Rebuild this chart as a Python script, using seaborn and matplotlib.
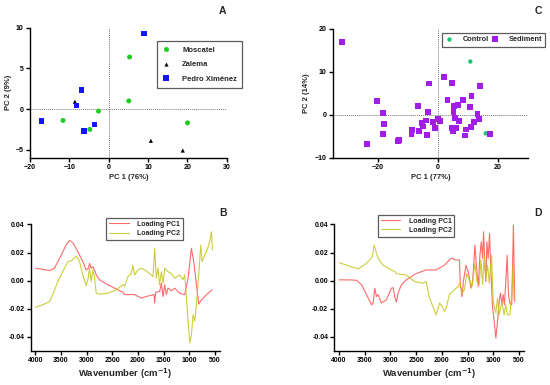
import numpy as np
import pandas as pd
import matplotlib
matplotlib.use("Agg")
import matplotlib.pyplot as plt
import seaborn as sns

# -- Panel A: PCA scores by grape variety --
a_variety = ["Moscatel"] * 6 + ["Zalema"] * 3 + ["Pedro Ximénez"] * 6
a_pc1 = [5.3, 5.1, -2.6, -11.6, -4.8, 20.0,
         -8.6, 10.7, 18.8,
         9.0, -6.9, -8.2, -17.1, -3.6, -6.2]
a_pc2 = [6.4, 1.0, -0.25, -1.4, -2.5, -1.7,
         0.9, -3.9, -5.1,
         9.3, 2.3, 0.45, -1.5, -1.9, -2.7]

# -- Panel C: PCA scores control vs sediment --
c_group = ["Control"] * 2 + ["Sediment"] * 44
c_pc1 = [10.8, 15.9,
         -32.0, -20.4, -18.4, -17.8, -18.2, -23.7, -13.0, -13.3, -8.6, -8.8,
         -6.6, -6.2, -5.3, -5.1, -3.9, -3.6, -3.2, -2.9, -1.7, -0.9,
         -0.1, 0.7, 2.1, 3.2, 4.7, 4.6, 5.0, 5.2, 5.4, 5.8,
         6.1, 6.8, 6.9, 8.3, 8.9, 9.4, 10.6, 10.9, 11.2, 12.0,
         13.2, 13.7, 14.0, 17.4]
c_pc2 = [12.4, -4.3,
         17.0, 3.3, 0.5, -2.1, -4.5, -6.8, -5.8, -6.1, -3.6, -4.4,
         2.1, -3.8, -1.9, -2.7, -1.3, -4.7, 0.7, 7.3, -1.6, -3.0,
         -0.9, -1.5, 8.9, 3.5, 7.5, -3.0, -3.7, 0.7, 2.0, -0.8,
         -3.1, 2.3, -1.5, 3.4, -4.8, -3.4, 1.9, -2.8, 4.4, -1.6,
         0.3, -0.9, 6.8, -4.4]

# -- Panel B: loadings --
b_wn_pc1 = [4000, 3857, 3726, 3629, 3498, 3400, 3336, 3270, 3173, 3075, 3010,
            2964, 2945, 2912, 2880, 2847, 2814, 2749, 2586, 2391, 2293, 2261,
            2065, 1935, 1805, 1687, 1674, 1655, 1577, 1544, 1511, 1479, 1446,
            1414, 1349, 1283, 1186, 1088, 1023, 958, 912, 860, 814, 762, 697,
            632, 555]
b_pc1 = [0.0088, 0.0080, 0.0071, 0.0088, 0.0180, 0.0255, 0.0286, 0.0270,
         0.0206, 0.0135, 0.0076, 0.0088, 0.0123, 0.0088, 0.0099, 0.0076,
         0.0040, 0.0005, -0.0030, -0.0066, -0.0083, -0.0100, -0.0100,
         -0.0125, -0.0110, -0.0100, -0.0160, -0.0083, -0.0078, -0.0019,
         -0.0114, -0.0030, -0.0100, -0.0054, -0.0073, -0.0054, -0.0090,
         -0.0100, 0.0017, 0.0230, 0.0135, -0.0030, -0.0168, -0.0137,
         -0.0114, -0.0090, -0.0066]
b_wn_pc2 = [4000, 3857, 3726, 3661, 3563, 3466, 3368, 3303, 3205, 3140, 3075,
            3010, 2977, 2945, 2912, 2880, 2847, 2814, 2749, 2586, 2423, 2293,
            2261, 2195, 2130, 2098, 2065, 2000, 1935, 1870, 1772, 1707, 1674,
            1642, 1609, 1577, 1544, 1511, 1479, 1414, 1349, 1283, 1186, 1121,
            1088, 1055, 1023, 990, 958, 925, 893, 860, 814, 775, 749, 697,
            632, 600, 567, 548]
b_pc2 = [-0.0190, -0.0173, -0.0150, -0.0100, -0.0007, 0.0064, 0.0135,
         0.0140, 0.0175, 0.0135, 0.0040, -0.0035, 0.0005, 0.0088, -0.0007,
         0.0076, 0.0017, -0.0090, -0.0097, -0.0090, -0.0066, -0.0030,
         -0.0040, 0.0028, 0.0050, 0.0110, 0.0040, 0.0076, 0.0088, 0.0076,
         0.0050, 0.0028, 0.0230, 0.0017, 0.0088, -0.0030, 0.0064, -0.0020,
         0.0088, 0.0064, 0.0050, 0.0017, 0.0040, 0.0005, 0.0040, -0.0125,
         -0.0290, -0.0445, -0.0386, -0.0244, -0.0290, -0.0173, 0.0050,
         0.0253, 0.0135, 0.0180, 0.0240, 0.0277, 0.0348, 0.0218]

# -- Panel D: loadings --
d_wn_pc1 = [4000, 3787, 3658, 3562, 3465, 3368, 3336, 3304, 3271, 3239, 3175,
            3078, 2981, 2949, 2917, 2885, 2852, 2788, 2691, 2498, 2304, 2111,
            1950, 1821, 1724, 1659, 1640, 1608, 1582, 1531, 1479, 1434, 1402,
            1357, 1324, 1292, 1260, 1234, 1208, 1189, 1163, 1144, 1124, 1099,
            1073, 1047, 1015, 983, 950, 918, 886, 860, 834, 809, 783, 757,
            731, 705, 680, 641, 609, 583]
d_pc1 = [0.0005, 0.0005, 0.0002, -0.0030, -0.0100, -0.0173, -0.0160,
         -0.0054, -0.0114, -0.0100, -0.0160, -0.0137, -0.0054, -0.0050,
         -0.0114, -0.0154, -0.0090, -0.0030, 0.0005, 0.0050, 0.0076, 0.0076,
         0.0110, 0.0159, 0.0147, 0.0147, -0.0030, -0.0114, -0.0007, 0.0110,
         0.0050, -0.0054, -0.0007, 0.0253, 0.0088, -0.0043, 0.0180, 0.0277,
         0.0159, 0.0348, 0.0110, -0.0007, 0.0277, 0.0159, 0.0336, 0.0064,
         -0.0185, -0.0290, -0.0410, -0.0290, -0.0150, -0.0090, -0.0173,
         -0.0100, -0.0173, -0.0007, 0.0180, -0.0100, -0.0160, -0.0173,
         0.0395, -0.0150]
d_wn_pc2 = [4000, 3852, 3626, 3465, 3349, 3317, 3291, 3239, 3143, 2981, 2917,
            2885, 2820, 2691, 2530, 2369, 2304, 2240, 2111, 2046, 1995, 1950,
            1918, 1853, 1756, 1691, 1646, 1608, 1563, 1518, 1466, 1415, 1357,
            1318, 1273, 1240, 1208, 1176, 1144, 1112, 1079, 1034, 1002, 950,
            918, 886, 834, 789, 757, 725, 680, 641, 615, 596]
d_pc2 = [0.0128, 0.0110, 0.0083, 0.0123, 0.0170, 0.0253, 0.0218, 0.0159,
         0.0110, 0.0076, 0.0064, 0.0050, 0.0045, 0.0040, -0.0007, -0.0019,
         -0.0007, -0.0125, -0.0244, -0.0160, -0.0185, -0.0220, -0.0196,
         -0.0100, -0.0066, -0.0043, -0.0019, -0.0090, -0.0066, 0.0050,
         0.0005, -0.0043, 0.0123, -0.0007, -0.0030, 0.0147, -0.0030, 0.0180,
         0.0017, 0.0110, -0.0019, 0.0180, -0.0150, -0.0230, -0.0125,
         -0.0244, -0.0150, -0.0244, -0.0173, -0.0244, -0.0244, -0.0100,
         0.0110, -0.0137]

sns.set_style("ticks")
plt.rcParams["font.family"] = ["Liberation Sans", "DejaVu Sans"]
plt.rcParams["font.weight"] = "bold"
plt.rcParams["axes.labelweight"] = "bold"
plt.rcParams["axes.linewidth"] = 1.0
plt.rcParams["axes.edgecolor"] = "black"

fig = plt.figure(figsize=(5.5, 3.85), dpi=100)
ax_a = fig.add_axes([0.0545, 0.590, 0.358, 0.338])
ax_c = fig.add_axes([0.605, 0.590, 0.355, 0.335])
ax_b = fig.add_axes([0.056, 0.089, 0.344, 0.328])
ax_d = fig.add_axes([0.608, 0.089, 0.345, 0.328])


def style_axes(ax):
    sns.despine(ax=ax)
    ax.tick_params(direction="out", length=3, width=1, labelsize=5,
                   colors="black", pad=1.5)
    for lab in ax.get_xticklabels() + ax.get_yticklabels():
        lab.set_fontweight("bold")


def frame_legend(ax, loc, anchor, borderpad=0.8, size=5, **kw):
    sns.move_legend(ax, loc, bbox_to_anchor=anchor, title=None, frameon=True,
                    fancybox=False, prop={"size": size, "weight": "bold"},
                    borderpad=borderpad, **kw)
    fr = ax.get_legend().get_frame()
    fr.set_edgecolor("#333333")
    fr.set_linewidth(0.9)


# ---- A ----
df_a = pd.DataFrame({"pc1": a_pc1, "pc2": a_pc2, "variety": a_variety})
ax_a.axhline(0, color="#777777", ls=(0, (1, 1)), lw=0.7, zorder=0)
ax_a.axvline(0, color="#777777", ls=(0, (1, 1)), lw=0.7, zorder=0)
sns.scatterplot(data=df_a, x="pc1", y="pc2", hue="variety", style="variety",
                palette={"Moscatel": "#22cc22", "Zalema": "black",
                         "Pedro Ximénez": "#1414ff"},
                markers={"Moscatel": "o", "Zalema": "^", "Pedro Ximénez": "s"},
                size="variety", sizes={"Moscatel": 13, "Zalema": 9,
                                       "Pedro Ximénez": 17},
                linewidth=0, ax=ax_a)
ax_a.set_xlim(-20, 30)
ax_a.set_ylim(-6, 10)
ax_a.set_xticks([-20, -10, 0, 10, 20, 30])
ax_a.set_yticks([-5, 0, 5, 10])
ax_a.set_xlabel("PC 1 (76%)", fontsize=5.5, labelpad=2)
ax_a.set_ylabel("PC 2 (9%)", fontsize=5.5, labelpad=3)
style_axes(ax_a)
frame_legend(ax_a, "upper left", (0.645, 0.895), borderpad=0.7, size=5.5,
             labelspacing=0.9, handlelength=1.0, handletextpad=1.6,
             borderaxespad=0)

# ---- C ----
df_c = pd.DataFrame({"pc1": c_pc1, "pc2": c_pc2, "group": c_group})
ax_c.axhline(0, color="#777777", ls=(0, (1, 1)), lw=0.7, zorder=0)
ax_c.axvline(0, color="#777777", ls=(0, (1, 1)), lw=0.7, zorder=0)
sns.scatterplot(data=df_c, x="pc1", y="pc2", hue="group", style="group",
                palette={"Control": "#1fc472", "Sediment": "#a21ee6"},
                markers={"Control": "o", "Sediment": "s"},
                size="group", sizes={"Control": 10, "Sediment": 18},
                linewidth=0, ax=ax_c)
ax_c.set_xlim(-35, 30)
ax_c.set_ylim(-10, 20)
ax_c.set_xticks([-20, 0, 20])
ax_c.set_yticks([-10, 0, 10, 20])
ax_c.set_xlabel("PC 1 (77%)", fontsize=5.5, labelpad=2)
ax_c.set_ylabel("PC 2 (14%)", fontsize=5.5, labelpad=3)
style_axes(ax_c)
frame_legend(ax_c, "upper left", (0.56, 0.97), borderpad=0.45, size=5.3,
             ncol=2, handlelength=1.0, columnspacing=0.4, handletextpad=1.3,
             borderaxespad=0)

# ---- B and D ----
pal = {"Loading PC1": "#ff5050", "Loading PC2": "#c4c41c"}


def loading_panel(ax, wn1, v1, wn2, v2, anchor):
    df = pd.concat([
        pd.DataFrame({"wn": wn1, "loading": v1, "series": "Loading PC1"}),
        pd.DataFrame({"wn": wn2, "loading": v2, "series": "Loading PC2"}),
    ])
    sns.lineplot(data=df, x="wn", y="loading", hue="series", palette=pal,
                 estimator=None, sort=False, lw=0.8, alpha=0.85, ax=ax)
    ax.set_xlim(4090, 400)
    ax.set_ylim(-0.05, 0.04)
    ax.set_xticks([4000, 3500, 3000, 2500, 2000, 1500, 1000, 500])
    ax.set_yticks([-0.04, -0.02, 0.0, 0.02, 0.04])
    ax.yaxis.set_major_formatter(matplotlib.ticker.FormatStrFormatter("%.2f"))
    ax.set_xlabel(r"Wavenumber (cm$^{\mathbf{-1}}$)", fontsize=6.8, labelpad=2)
    ax.set_ylabel("")
    style_axes(ax)
    frame_legend(ax, "upper left", anchor, borderpad=0.4, handlelength=2.8,
                 handletextpad=1.2, labelspacing=0.3, borderaxespad=0)
    for ln in ax.get_legend().get_lines():
        ln.set_linewidth(0.8)


loading_panel(ax_b, b_wn_pc1, b_pc1, b_wn_pc2, b_pc2, (0.40, 1.05))
loading_panel(ax_d, d_wn_pc1, d_pc1, d_wn_pc2, d_pc2, (0.23, 1.075))

# panel letters
for lab, x, y in [("A", 0.405, 0.972), ("C", 0.978, 0.972),
                  ("B", 0.405, 0.447), ("D", 0.978, 0.447)]:
    fig.text(x, y, lab, fontsize=7.5, fontweight="bold", ha="center",
             va="center")

fig.savefig("out.png", dpi=100)
